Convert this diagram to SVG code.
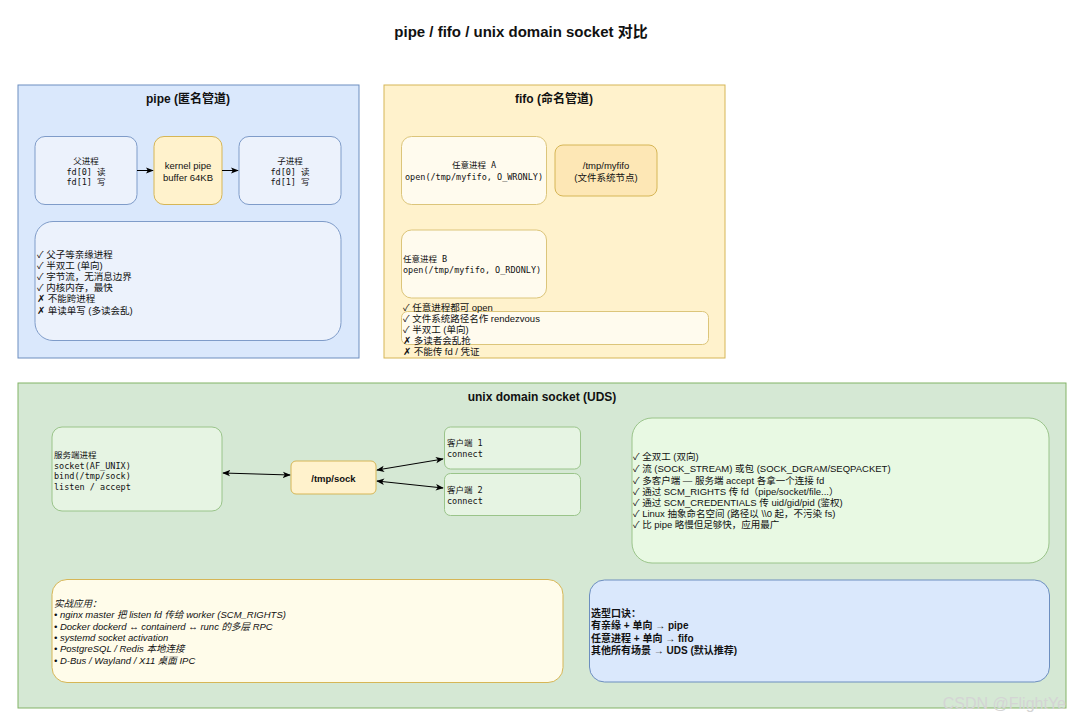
<svg xmlns="http://www.w3.org/2000/svg" width="1080" height="721" viewBox="0 0 1080 721">
<style>
text{font-family:"Liberation Sans","Noto Sans CJK SC",sans-serif;font-size:9.5px;fill:#111;dominant-baseline:central}
.mono{font-family:"DejaVu Sans Mono","Noto Sans CJK SC",monospace;font-size:8.5px}
.t{font-weight:bold;font-size:12px;text-anchor:middle}
.c{text-anchor:middle}
.b{font-weight:bold}
.i{font-style:italic}
.blueC{fill:#dae8fc;stroke:#6c8ebf}
.blueN{fill:#ecf2fc;stroke:#7f9cc9}
.yelC{fill:#fff2cc;stroke:#d6b656}
.yelN{fill:#fffbee;stroke:#dcc57a}
.grnC{fill:#d5e8d4;stroke:#82b366}
.grnN{fill:#e6f4e3;stroke:#9ac48a}
.conn{stroke:#000;stroke-width:1;fill:none}
</style>
<defs>
<marker id="ah" viewBox="0 0 10 10" refX="9" refY="5" markerWidth="8" markerHeight="8" orient="auto-start-reverse" markerUnits="userSpaceOnUse">
<path d="M0,1 L10,5 L0,9 L2.5,5 Z" fill="#000"/>
</marker>
</defs>
<rect width="1080" height="721" fill="#fff"/>
<text x="521" y="31" class="t" style="font-size:15px">pipe / fifo / unix domain socket 对比</text>

<g id="pipe-group">
<rect x="18" y="85" width="341" height="273" class="blueC"/>
<text x="188" y="99" class="t">pipe (匿名管道)</text>
</g>
<g id="parent">
<rect x="35" y="136.5" width="102" height="68" rx="10" class="blueN"/>
<text x="86" y="161" class="mono c">父进程</text>
<text x="86" y="171.5" class="mono c">fd[0] 读</text>
<text x="86" y="182" class="mono c">fd[1] 写</text>
</g>
<g id="kernel">
<rect x="154" y="136.5" width="68" height="68" rx="10" class="yelC"/>
<text x="188" y="165" class="c">kernel pipe</text>
<text x="188" y="177" class="c">buffer 64KB</text>
</g>
<g id="child">
<rect x="239" y="136.5" width="102" height="68" rx="10" class="blueN"/>
<text x="290" y="161" class="mono c">子进程</text>
<text x="290" y="171.5" class="mono c">fd[0] 读</text>
<text x="290" y="182" class="mono c">fd[1] 写</text>
</g>
<g id="pipe-notes">
<rect x="35" y="221.5" width="306" height="119" rx="18" class="blueN"/>
<text x="37" y="254">✓ 父子等亲缘进程</text>
<text x="37" y="265.5">✓ 半双工 (单向)</text>
<text x="37" y="276.5">✓ 字节流，无消息边界</text>
<text x="37" y="287.5">✓ 内核内存，最快</text>
<text x="37" y="298.5">✗ 不能跨进程</text>
<text x="37" y="310">✗ 单读单写 (多读会乱)</text>
</g>

<g id="fifo-group">
<rect x="384" y="85" width="341" height="273" class="yelC"/>
<text x="554" y="99" class="t">fifo (命名管道)</text>
</g>
<g id="procA">
<rect x="401.5" y="136.5" width="145" height="68" rx="10" class="yelN"/>
<text x="474" y="165" class="mono c">任意进程 A</text>
<text x="474" y="176.5" class="mono c">open(/tmp/myfifo, O_WRONLY)</text>
</g>
<g id="myfifo">
<rect x="555" y="145" width="102" height="51" rx="8" fill="#fde7b5" stroke="#d6b656"/>
<text x="606" y="165" class="c">/tmp/myfifo</text>
<text x="606" y="177" class="c">(文件系统节点)</text>
</g>
<g id="procB">
<rect x="401.5" y="230" width="145" height="68" rx="10" class="yelN"/>
<text x="403" y="259" class="mono">任意进程 B</text>
<text x="403" y="269.5" class="mono">open(/tmp/myfifo, O_RDONLY)</text>
</g>
<g id="fifo-notes">
<rect x="401.5" y="311.5" width="307" height="33" rx="6" class="yelN"/>
<text x="403" y="307">✓ 任意进程都可 open</text>
<text x="403" y="318">✓ 文件系统路径名作 rendezvous</text>
<text x="403" y="329">✓ 半双工 (单向)</text>
<text x="403" y="340">✗ 多读者会乱抢</text>
<text x="403" y="351">✗ 不能传 fd / 凭证</text>
</g>

<g id="uds-group">
<rect x="18" y="383" width="1048" height="325" class="grnC"/>
<text x="542" y="397" class="t">unix domain socket (UDS)</text>
</g>
<g id="server">
<rect x="52" y="427" width="170" height="84" rx="10" class="grnN"/>
<text x="54" y="455" class="mono">服务端进程</text>
<text x="54" y="465.5" class="mono">socket(AF_UNIX)</text>
<text x="54" y="476" class="mono">bind(/tmp/sock)</text>
<text x="54" y="486.5" class="mono">listen / accept</text>
</g>
<g id="sock">
<rect x="291" y="461" width="85" height="33" rx="5" class="yelC"/>
<text x="333.5" y="478" class="c b">/tmp/sock</text>
</g>
<g id="client1">
<rect x="444.5" y="427" width="136" height="42" rx="6" class="grnN"/>
<text x="447" y="443" class="mono">客户端 1</text>
<text x="447" y="453.5" class="mono">connect</text>
</g>
<g id="client2">
<rect x="444.5" y="473.5" width="136" height="42" rx="6" class="grnN"/>
<text x="447" y="490" class="mono">客户端 2</text>
<text x="447" y="500.5" class="mono">connect</text>
</g>
<g id="features">
<rect x="632" y="418" width="417" height="145" rx="20" fill="#e8f9e3" stroke="#9ac48a"/>
<text x="633" y="456">✓ 全双工 (双向)</text>
<text x="633" y="468.5">✓ 流 (SOCK_STREAM) 或包 (SOCK_DGRAM/SEQPACKET)</text>
<text x="633" y="480">✓ 多客户端 — 服务端 accept 各拿一个连接 fd</text>
<text x="633" y="491">✓ 通过 SCM_RIGHTS 传 fd（pipe/socket/file...）</text>
<text x="633" y="502">✓ 通过 SCM_CREDENTIALS 传 uid/gid/pid (鉴权)</text>
<text x="633" y="513">✓ Linux 抽象命名空间 (路径以 \\0 起，不污染 fs)</text>
<text x="633" y="524.5">✓ 比 pipe 略慢但足够快，应用最广</text>
</g>
<g id="practice">
<rect x="52" y="579.5" width="511" height="103" rx="15" fill="#fffcea" stroke="#d6b656"/>
<text x="54" y="603" class="i">实战应用：</text>
<text x="54" y="614.5" class="i">• nginx master 把 listen fd 传给 worker (SCM_RIGHTS)</text>
<text x="54" y="626" class="i">• Docker dockerd ↔ containerd ↔ runc 的多层 RPC</text>
<text x="54" y="637.5" class="i">• systemd socket activation</text>
<text x="54" y="648.5" class="i">• PostgreSQL / Redis 本地连接</text>
<text x="54" y="660" class="i">• D-Bus / Wayland / X11 桌面 IPC</text>
</g>
<g id="advice">
<rect x="589.5" y="580" width="460" height="102" rx="15" class="blueC"/>
<text x="591" y="613" class="b" style="font-size:10px">选型口诀：</text>
<text x="591" y="625.5" class="b" style="font-size:10px">有亲缘 + 单向 → pipe</text>
<text x="591" y="638" class="b" style="font-size:10px">任意进程 + 单向 → fifo</text>
<text x="591" y="650.5" class="b" style="font-size:10px">其他所有场景 → UDS (默认推荐)</text>
</g>

<g id="connectors">
<line x1="137" y1="170.5" x2="153" y2="170.5" class="conn" marker-end="url(#ah)"/>
<line x1="222" y1="170.5" x2="238" y2="170.5" class="conn" marker-end="url(#ah)"/>
<line x1="223" y1="473" x2="290" y2="475" class="conn" marker-start="url(#ah)" marker-end="url(#ah)"/>
<line x1="377" y1="470" x2="443" y2="459" class="conn" marker-start="url(#ah)" marker-end="url(#ah)"/>
<line x1="377" y1="481" x2="443" y2="488" class="conn" marker-start="url(#ah)" marker-end="url(#ah)"/>
</g>

<text x="1066" y="703" style="font-size:16px;fill:#d4d4d4;text-anchor:end">CSDN @FlightYe</text>
</svg>
